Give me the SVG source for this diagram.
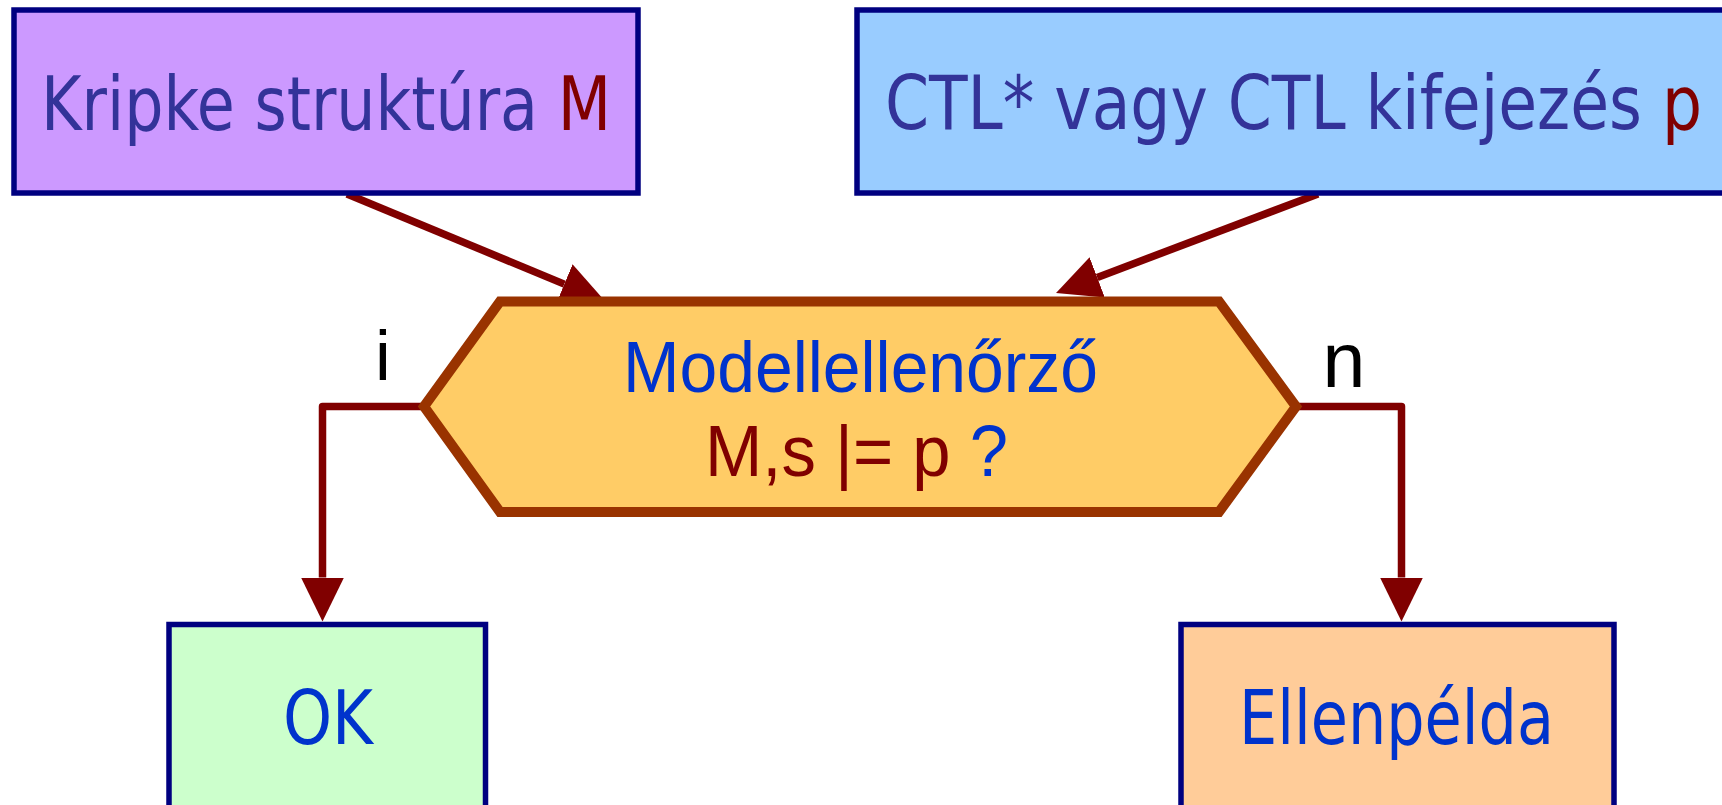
<svg xmlns="http://www.w3.org/2000/svg" width="1722" height="805" viewBox="0 0 1722 805">
<style>
.box{stroke:#000080;stroke-width:5.5}
.t{font-family:"DejaVu Sans Condensed","DejaVu Sans",sans-serif;font-size:74px}
.a{font-family:"Liberation Sans",Arial,sans-serif}
.conn{stroke:#800000;stroke-width:7.5;fill:none;stroke-linejoin:round}
</style>
<defs>
<marker id="ah" viewBox="0 0 44 43" refX="0" refY="21.5" markerWidth="44" markerHeight="43" markerUnits="userSpaceOnUse" orient="auto">
<path d="M0,0 L44,21.5 L0,43 Z" fill="#800000"/>
</marker>
</defs>
<rect width="1722" height="805" fill="#ffffff"/>
<g id="connectors">
<path class="conn" d="M347,194 L564.3,284.1" marker-end="url(#ah)"/>
<path class="conn" d="M1318,194 L1097.2,277.4" marker-end="url(#ah)"/>
<path class="conn" d="M424,406.5 L322.5,406.5 L322.5,577.5" marker-end="url(#ah)"/>
<path class="conn" d="M1296,406.5 L1401.5,406.5 L1401.5,577.5" marker-end="url(#ah)"/>
</g>
<g id="kripke">
<rect class="box" x="14" y="10" width="624" height="183" fill="#CC99FF"/>
<text class="t" x="41" y="130" fill="#333399" textLength="570" lengthAdjust="spacingAndGlyphs">Kripke struktúra <tspan fill="#800000">M</tspan></text>
</g>
<g id="ctl">
<rect class="box" x="857" y="10" width="880" height="183" fill="#99CCFF"/>
<text class="t" x="885" y="129" fill="#333399" textLength="817" lengthAdjust="spacingAndGlyphs">CTL* vagy CTL kifejezés <tspan fill="#800000">p</tspan></text>
</g>
<g id="checker">
<polygon points="424,406.5 500,301.5 1219,301.5 1296,406.5 1219,512 500,512" fill="#FFCC66" stroke="#993300" stroke-width="10" stroke-linejoin="miter"/>
<text class="a" x="623" y="392" font-size="72" fill="#0033CC" textLength="475" lengthAdjust="spacingAndGlyphs">Modellellenőrző</text>
<text class="a" x="705" y="476" font-size="72" fill="#800000" textLength="303" lengthAdjust="spacingAndGlyphs">M,s |= p <tspan fill="#0033CC">?</tspan></text>
</g>
<g id="labels">
<text class="a" x="383" y="380" font-size="71" fill="#000000" text-anchor="middle">i</text>
<text class="a" x="1344" y="387" font-size="77" fill="#000000" text-anchor="middle">n</text>
</g>
<g id="ok">
<rect class="box" x="169" y="624.5" width="316.5" height="190" fill="#CCFFCC"/>
<text class="t" x="283" y="744" fill="#0033CC" textLength="90" lengthAdjust="spacingAndGlyphs">OK</text>
</g>
<g id="ellenpelda">
<rect class="box" x="1181" y="624.5" width="433" height="190" fill="#FFCC99"/>
<text class="t" x="1239" y="744" fill="#0033CC" textLength="315" lengthAdjust="spacingAndGlyphs">Ellenpélda</text>
</g>
</svg>
